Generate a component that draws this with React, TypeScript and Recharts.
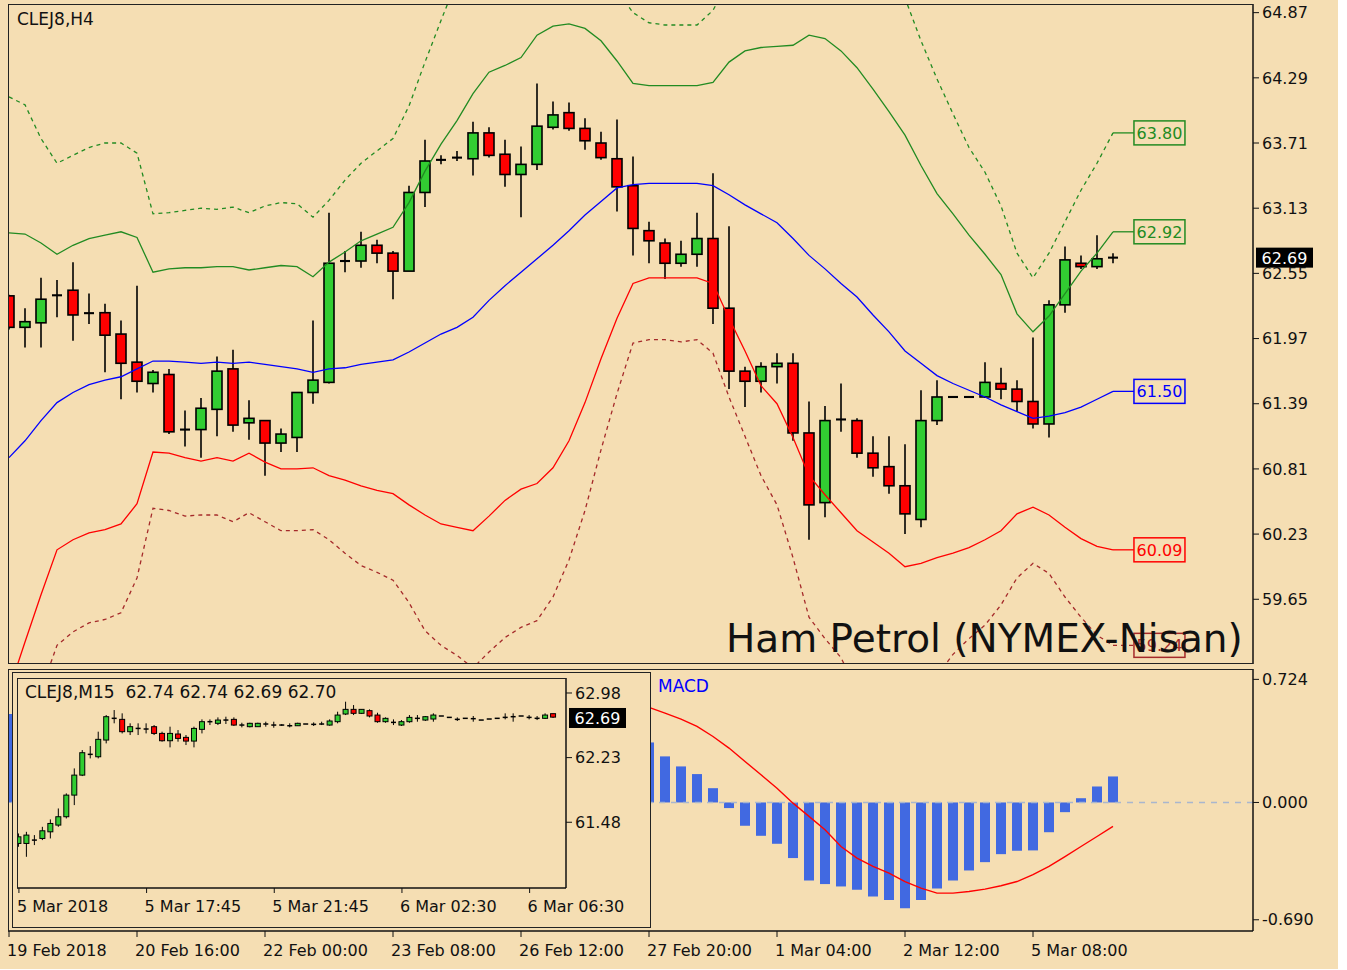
import React from "react";
import { ComposedChart, Bar, Line, XAxis, YAxis, ReferenceLine, ReferenceDot } from "recharts";

const BG = "#F5DEB3";
const FONT = "DejaVu Sans";
const INK = "#111";
const GREEN = "#228B22";
const BODY_UP = "#32CD32";
const BODY_DN = "#FF0000";

// ---- CLEJ8 H4, 19 Feb - 5 Mar 2018 ----
const h4Open = [
  62.35, 62.07, 62.11, 62.355, 62.4, 62.196, 62.2, 62.01, 61.76, 61.57,
  61.65, 61.16, 61.16, 61.34, 61.7, 61.22, 61.24, 61.04, 61.09, 61.49,
  61.58, 62.66, 62.66, 62.8, 62.73, 62.57, 63.27, 63.56, 63.58, 63.57,
  63.8, 63.61, 63.43, 63.52, 63.85, 63.98, 63.84, 63.71, 63.57, 63.33,
  62.93, 62.82, 62.64, 62.72, 62.86, 62.24, 61.68, 61.59, 61.72, 61.75,
  61.13, 60.51, 61.25, 61.24, 60.95, 60.83, 60.66, 60.36, 61.24, 61.45,
  61.45, 61.45, 61.57, 61.52, 61.41, 61.21, 62.27, 62.64, 62.61, 62.69,
];
const h4High = [
  62.36, 62.24, 62.51, 62.49, 62.65, 62.37, 62.28, 62.13, 62.44, 61.69,
  61.7, 61.33, 61.44, 61.81, 61.87, 61.42, 61.24, 61.17, 61.49, 62.13,
  63.09, 62.75, 62.92, 62.85, 62.75, 63.33, 63.74, 63.6, 63.64, 63.9,
  63.85, 63.74, 63.68, 64.24, 64.08, 64.07, 63.93, 63.81, 63.92, 63.59,
  63.01, 62.86, 62.84, 63.09, 63.44, 62.97, 61.72, 61.76, 61.84, 61.84,
  61.41, 61.37, 61.57, 61.26, 61.1, 61.1, 61.03, 61.51, 61.6, 61.45,
  61.45, 61.76, 61.71, 61.6, 61.98, 62.31, 62.79, 62.71, 62.89, 62.73,
];
const h4Low = [
  62.05, 61.89, 61.89, 62.16, 61.95, 62.1, 61.67, 61.43, 61.49, 61.49,
  61.12, 61.01, 60.91, 61.1, 61.14, 61.07, 60.75, 60.96, 60.96, 61.39,
  61.57, 62.56, 62.6, 62.64, 62.32, 62.57, 63.14, 63.52, 63.55, 63.42,
  63.58, 63.32, 63.05, 63.47, 63.83, 63.82, 63.65, 63.56, 63.1, 62.71,
  62.64, 62.5, 62.61, 62.61, 62.1, 61.52, 61.36, 61.49, 61.57, 61.06,
  60.18, 60.38, 61.14, 60.91, 60.74, 60.59, 60.23, 60.29, 61.2, 61.45,
  61.45, 61.44, 61.43, 61.32, 61.17, 61.09, 62.2, 62.59, 62.59, 62.64,
];
const h4Close = [
  62.07, 62.12, 62.32, 62.355, 62.18, 62.196, 62.0, 61.75, 61.59, 61.67,
  61.14, 61.16, 61.35, 61.68, 61.2, 61.26, 61.04, 61.12, 61.49, 61.6,
  62.64, 62.66, 62.8, 62.73, 62.57, 63.27, 63.55, 63.56, 63.58, 63.8,
  63.6, 63.43, 63.52, 63.86, 63.96, 63.84, 63.73, 63.58, 63.32, 62.95,
  62.84, 62.64, 62.72, 62.86, 62.24, 61.68, 61.59, 61.72, 61.75, 61.13,
  60.49, 61.24, 61.25, 60.95, 60.82, 60.66, 60.41, 61.24, 61.45, 61.45,
  61.45, 61.58, 61.52, 61.41, 61.21, 62.27, 62.67, 62.61, 62.68, 62.69,
];

// bands
const bandUpperOuter = [
  64.12, 64.05, 63.75, 63.53, 63.6, 63.67, 63.71, 63.71, 63.62, 63.08,
  63.09, 63.11, 63.13, 63.12, 63.14, 63.09, 63.15, 63.18, 63.17, 63.05,
  63.2, 63.38, 63.53, 63.64, 63.75, 64.04, 64.43, 64.8, 65.16, 65.51,
  65.78, 65.87, 65.96, 66.22, 66.31, 66.31, 66.13, 65.78, 65.07, 64.87,
  64.78, 64.76, 64.76, 64.76, 64.89, 65.16, 65.35, 65.46, 65.52, 65.61,
  65.84, 65.84, 65.73, 65.61, 65.47, 65.29, 65.0, 64.62, 64.28, 63.97,
  63.67, 63.45, 63.15, 62.73, 62.51, 62.73, 63.01, 63.29, 63.53, 63.8,
];
const bandUpper = [
  62.91, 62.9, 62.82, 62.72, 62.8, 62.86, 62.89, 62.92, 62.87, 62.56,
  62.59, 62.6, 62.6, 62.61, 62.61, 62.58, 62.6, 62.62, 62.61, 62.52,
  62.65, 62.74, 62.84, 62.9, 62.96, 63.18, 63.46, 63.7, 63.91, 64.15,
  64.34, 64.4, 64.47, 64.67, 64.75, 64.77, 64.73, 64.62, 64.44, 64.24,
  64.22, 64.22, 64.22, 64.22, 64.25, 64.43, 64.53, 64.56, 64.57, 64.58,
  64.67, 64.64, 64.53, 64.38, 64.19, 63.99, 63.78, 63.51, 63.26, 63.08,
  62.89, 62.72, 62.54, 62.19, 62.03, 62.17, 62.37, 62.57, 62.73, 62.92,
];
const bandMid = [
  60.91, 61.06, 61.24, 61.4, 61.49, 61.56, 61.6, 61.63, 61.7, 61.77,
  61.77, 61.76, 61.75, 61.76, 61.75, 61.76, 61.74, 61.72, 61.7, 61.67,
  61.7, 61.71, 61.74, 61.76, 61.78, 61.85, 61.93, 62.01, 62.07, 62.16,
  62.31, 62.44, 62.56, 62.68, 62.8, 62.93, 63.07, 63.19, 63.31, 63.34,
  63.35, 63.35, 63.35, 63.35, 63.33, 63.25, 63.16, 63.08, 63.0, 62.86,
  62.71, 62.59, 62.46, 62.34, 62.18, 62.03, 61.86, 61.75, 61.64, 61.57,
  61.51, 61.45, 61.38, 61.32, 61.26, 61.28, 61.31, 61.36, 61.43, 61.5,
];
const bandLower = [
  58.84, 59.27, 59.69, 60.09, 60.18, 60.24, 60.27, 60.32, 60.5, 60.96,
  60.95, 60.91, 60.88, 60.91, 60.88, 60.95, 60.87, 60.81, 60.81, 60.82,
  60.75, 60.71, 60.66, 60.62, 60.59, 60.49, 60.4, 60.32, 60.29, 60.26,
  60.39, 60.53, 60.63, 60.68, 60.82, 61.06, 61.4, 61.79, 62.15, 62.46,
  62.51, 62.51, 62.51, 62.51, 62.46, 62.15, 61.86, 61.55, 61.39, 61.09,
  60.75, 60.58, 60.42, 60.26, 60.16, 60.06, 59.94, 59.97, 60.02, 60.06,
  60.11, 60.18, 60.26, 60.41, 60.47, 60.4, 60.29, 60.19, 60.12, 60.09,
];
const bandLowerOuter = [
  57.86, 58.49, 58.84, 59.24, 59.36, 59.44, 59.47, 59.53, 59.84, 60.46,
  60.44, 60.39, 60.4, 60.4, 60.34, 60.42, 60.34, 60.26, 60.26, 60.27,
  60.18, 60.06, 59.95, 59.89, 59.82, 59.62, 59.37, 59.24, 59.15, 59.04,
  59.18, 59.31, 59.4, 59.46, 59.67, 60.0, 60.44, 60.98, 61.48, 61.93,
  61.96, 61.96, 61.94, 61.96, 61.84, 61.45, 61.1, 60.75, 60.49, 60.02,
  59.49, 59.3, 59.13, 58.84, 58.62, 58.49, 58.57, 58.75, 58.97, 59.16,
  59.3, 59.42, 59.6, 59.84, 59.97, 59.88, 59.67, 59.49, 59.33, 59.24,
];

// MACD (only the part not hidden by the inset is known)
const macdHist = [
  0.52, null, null, null, null, null, null, null, null, null,
  null, null, null, null, null, null, null, null, null, null,
  null, null, null, null, null, null, null, null, null, null,
  null, null, null, null, null, null, null, null, null, null,
  0.353, 0.271, 0.212, 0.167, 0.084, -0.033, -0.137, -0.196, -0.243, -0.327,
  -0.459, -0.48, -0.494, -0.514, -0.553, -0.573, -0.622, -0.573, -0.506, -0.459,
  -0.4, -0.351, -0.304, -0.284, -0.282, -0.175, -0.057, 0.025, 0.094, 0.153,
];
const macdSignal = [
  null, null, null, null, null, null, null, null, null, null,
  null, null, null, null, null, null, null, null, null, null,
  null, null, null, null, null, null, null, null, null, null,
  null, null, null, null, null, null, null, null, null, null,
  0.559, 0.525, 0.49, 0.447, 0.388, 0.32, 0.241, 0.163, 0.084, -0.004,
  -0.082, -0.161, -0.259, -0.327, -0.376, -0.416, -0.465, -0.504, -0.533, -0.533,
  -0.524, -0.51, -0.49, -0.465, -0.425, -0.376, -0.318, -0.259, -0.2, -0.141,
];

const priceTicks = [64.87, 64.29, 63.71, 63.13, 62.55, 61.97, 61.39, 60.81, 60.23, 59.65];
const macdTicks = [0.724, 0, -0.69];
const h4TickIdx = [0, 8, 16, 24, 32, 40, 48, 56, 64];
const h4TickLabels = [
  "19 Feb 2018", "20 Feb 16:00", "22 Feb 00:00", "23 Feb 08:00", "26 Feb 12:00",
  "27 Feb 20:00", "1 Mar 04:00", "2 Mar 12:00", "5 Mar 08:00",
];

// ---- CLEJ8 M15 inset ----
const m15Open = [
  61.234, 61.234, 61.273, 61.292, 61.369, 61.447, 61.544, 61.795, 62.027, 62.268,
  62.24, 62.434, 62.686, 62.674, 62.531, 62.569, 62.562, 62.589, 62.511, 62.426,
  62.504, 62.465, 62.422, 62.558, 62.647, 62.628, 62.666, 62.674, 62.608, 62.589,
  62.589, 62.62, 62.608, 62.608, 62.6, 62.6, 62.62, 62.616, 62.62, 62.608,
  62.647, 62.736, 62.79, 62.744, 62.775, 62.724, 62.647, 62.639, 62.608, 62.647,
  62.686, 62.666, 62.678, 62.713, 62.697, 62.674, 62.686, 62.682, 62.666, 62.678,
  62.686, 62.697, 62.705, 62.713, 62.697, 62.686, 62.686, 62.74,
];
const m15High = [
  61.35, 61.369, 61.331, 61.427, 61.513, 61.64, 61.815, 62.105, 62.318, 62.364,
  62.531, 62.724, 62.782, 62.744, 62.628, 62.628, 62.628, 62.608, 62.531, 62.589,
  62.55, 62.492, 62.589, 62.674, 62.674, 62.697, 62.705, 62.697, 62.635, 62.635,
  62.635, 62.647, 62.647, 62.62, 62.628, 62.635, 62.62, 62.639, 62.647, 62.674,
  62.763, 62.879, 62.84, 62.79, 62.79, 62.751, 62.697, 62.674, 62.666, 62.724,
  62.724, 62.713, 62.744, 62.713, 62.697, 62.697, 62.686, 62.713, 62.666, 62.678,
  62.686, 62.744, 62.744, 62.713, 62.724, 62.713, 62.744, 62.74,
];
const m15Low = [
  61.195, 61.079, 61.215, 61.273, 61.292, 61.427, 61.524, 61.679, 62.016, 62.221,
  62.221, 62.395, 62.628, 62.511, 62.492, 62.492, 62.511, 62.492, 62.415, 62.349,
  62.415, 62.376, 62.349, 62.511, 62.608, 62.608, 62.62, 62.597, 62.581, 62.581,
  62.589, 62.589, 62.577, 62.597, 62.581, 62.597, 62.62, 62.597, 62.608, 62.6,
  62.628, 62.724, 62.724, 62.736, 62.697, 62.635, 62.635, 62.608, 62.597, 62.635,
  62.647, 62.655, 62.647, 62.713, 62.697, 62.655, 62.686, 62.647, 62.666, 62.678,
  62.686, 62.674, 62.647, 62.713, 62.674, 62.666, 62.678, 62.69,
];
const m15Close = [
  61.311, 61.331, 61.273, 61.381, 61.466, 61.544, 61.795, 62.027, 62.287, 62.268,
  62.442, 62.705, 62.686, 62.531, 62.589, 62.569, 62.562, 62.511, 62.426, 62.511,
  62.453, 62.422, 62.569, 62.647, 62.647, 62.666, 62.666, 62.608, 62.608, 62.628,
  62.628, 62.62, 62.608, 62.608, 62.6, 62.628, 62.62, 62.616, 62.62, 62.655,
  62.724, 62.79, 62.744, 62.79, 62.713, 62.647, 62.686, 62.639, 62.647, 62.697,
  62.686, 62.705, 62.724, 62.713, 62.697, 62.674, 62.686, 62.682, 62.666, 62.678,
  62.686, 62.697, 62.705, 62.713, 62.697, 62.686, 62.724, 62.7,
];
const m15PriceTicks = [62.98, 62.23, 61.48];
const m15TickIdx = [0, 16, 32, 48, 64];
const m15TickLabels = ["5 Mar 2018", "5 Mar 17:45", "5 Mar 21:45", "6 Mar 02:30", "6 Mar 06:30"];

const tags = [
  { value: 63.8, text: "63.80", color: GREEN, dash: undefined },
  { value: 62.92, text: "62.92", color: GREEN, dash: undefined },
  { value: 61.5, text: "61.50", color: "#0000FF", dash: undefined },
  { value: 60.09, text: "60.09", color: "#FF0000", dash: undefined },
  { value: 59.24, text: "59.24", color: "#A52A2A", dash: "4 4" },
];

const h4Data = h4Open.map((o, i) => ({
  i, o, h: h4High[i], l: h4Low[i], c: h4Close[i],
  ud: bandUpperOuter[i], u: bandUpper[i], m: bandMid[i], lo: bandLower[i], ld: bandLowerOuter[i],
}));
const macdData = macdHist.map((v, i) => ({ i, hist: v, sig: macdSignal[i] }));
const m15Data = m15Open.map((o, i) => ({ i, o, h: m15High[i], l: m15Low[i], c: m15Close[i] }));

function makeCandle(sw: number) {
  return (props: any) => {
    const { x, y, width, height, payload } = props;
    if (x == null || y == null || !payload) return <g />;
    const { o, h, l, c } = payload;
    const k = h > l ? height / (h - l) : 0;
    const py = (v: number) => y + (h - v) * k;
    const mid = x + width / 2;
    const top = py(Math.max(o, c));
    const bot = py(Math.min(o, c));
    return (
      <g>
        <line x1={mid} x2={mid} y1={y} y2={y + height} stroke="#000" strokeWidth={sw} />
        {c !== o ? (
          <rect x={x} y={top} width={width} height={Math.max(bot - top, 1)}
            fill={c > o ? BODY_UP : BODY_DN} stroke="#000" strokeWidth={sw} />
        ) : (
          <line x1={x} x2={x + width} y1={top} y2={top} stroke="#000" strokeWidth={sw + 0.5} />
        )}
      </g>
    );
  };
}

const bigCandle = makeCandle(1.6);
const smallCandle = makeCandle(1);

const dateTick = (idx: number[], labels: string[]) => (props: any) => {
  const { x, y, payload } = props;
  const n = idx.indexOf(payload.value);
  return (
    <text x={x - 2} y={y} dy={17} fontSize={16} fontFamily={FONT} fill={INK} textAnchor="start">
      {n >= 0 ? labels[n] : ""}
    </text>
  );
};

const axisTick = { fontSize: 16, fontFamily: FONT, fill: INK };

const blackTag = (text: string) => (p: any) => (
  <g>
    <rect x={p.cx + 3} y={p.cy - 10} width={57} height={20} fill="#000" />
    <text x={p.cx + 31.5} y={p.cy + 6} textAnchor="middle" fontSize={16} fontFamily={FONT} fill="#fff">{text}</text>
  </g>
);

export default function App() {
  return (
    <div style={{ position: "relative", width: 1347, height: 970, background: "#fff", overflow: "hidden" }}>
      <style>{"body{margin:0}"}</style>
      <div style={{ position: "absolute", left: 0, top: 0, width: 1338, height: 969, background: BG }} />

      {/* main H4 window */}
      <div style={{ position: "absolute", left: 0, top: 0 }}>
        <ComposedChart width={1338} height={668} data={h4Data} margin={{ top: 4, right: 0, bottom: 4, left: 8 }}>
          <XAxis type="number" dataKey="i" domain={[-0.0625, 77.75]} hide allowDataOverflow />
          <YAxis orientation="right" width={85} domain={[59.074, 64.947]} allowDataOverflow ticks={priceTicks}
            interval={0} tickFormatter={(v: number) => v.toFixed(2)} tick={axisTick} tickSize={6} tickMargin={3}
            tickLine={{ stroke: INK }} axisLine={{ stroke: INK, strokeWidth: 1.5 }} />
          <Bar dataKey={(d: any) => [d.l, d.h]} barSize={10} shape={bigCandle} isAnimationActive={false} />
          <Line dataKey="ud" stroke={GREEN} strokeWidth={1.3} strokeDasharray="4 4" dot={false} activeDot={false} isAnimationActive={false} />
          <Line dataKey="u" stroke={GREEN} strokeWidth={1.3} dot={false} activeDot={false} isAnimationActive={false} />
          <Line dataKey="m" stroke="#0000FF" strokeWidth={1.3} dot={false} activeDot={false} isAnimationActive={false} />
          <Line dataKey="lo" stroke="#FF0000" strokeWidth={1.3} dot={false} activeDot={false} isAnimationActive={false} />
          <Line dataKey="ld" stroke="#A52A2A" strokeWidth={1.3} strokeDasharray="4 4" dot={false} activeDot={false} isAnimationActive={false} />
          {tags.map((t) => (
            <ReferenceLine key={"s" + t.text} segment={[{ x: 69, y: t.value }, { x: 70.31, y: t.value }]}
              stroke={t.color} strokeWidth={1.3} strokeDasharray={t.dash} />
          ))}
          {tags.map((t) => (
            <ReferenceDot key={"d" + t.text} x={70.31} y={t.value} r={0} ifOverflow="visible"
              shape={(p: any) => (
                <g>
                  <rect x={p.cx} y={p.cy - 12} width={51} height={24} fill={BG} stroke={t.color} strokeWidth={1.5} />
                  <text x={p.cx + 25.5} y={p.cy + 6} textAnchor="middle" fontSize={16} fontFamily={FONT} fill={t.color}>{t.text}</text>
                </g>
              )} />
          ))}
          <ReferenceDot x={77.75} y={62.69} r={0} ifOverflow="visible" shape={blackTag("62.69")} />
        </ComposedChart>
      </div>
      <div style={{ position: "absolute", left: 8, top: 4, width: 1245, height: 660, boxSizing: "border-box",
        borderTop: "1.5px solid #222", borderLeft: "1.5px solid #222", borderBottom: "1.5px solid #222", pointerEvents: "none" }} />

      {/* MACD window */}
      <div style={{ position: "absolute", left: 0, top: 668 }}>
        <ComposedChart width={1338} height={302} data={macdData} margin={{ top: 1, right: 0, bottom: 0, left: 8 }}>
          <XAxis type="number" dataKey="i" domain={[-0.0625, 77.75]} allowDataOverflow ticks={h4TickIdx} interval={0}
            height={39} tickSize={6} tickLine={{ stroke: INK }} axisLine={{ stroke: INK, strokeWidth: 1.5 }}
            tick={dateTick(h4TickIdx, h4TickLabels)} />
          <YAxis orientation="right" width={85} domain={[-0.756, 0.785]} allowDataOverflow ticks={macdTicks} interval={0}
            tickFormatter={(v: number) => v.toFixed(3)} tick={axisTick} tickSize={6} tickMargin={3}
            tickLine={{ stroke: INK }} axisLine={{ stroke: INK, strokeWidth: 1.5 }} />
          <ReferenceLine y={0} stroke="#A9B6CE" strokeWidth={1.5} strokeDasharray="6 6" />
          <Bar dataKey="hist" barSize={10} fill="#4169E1" isAnimationActive={false} />
          <Line dataKey="sig" stroke="#FF0000" strokeWidth={1.4} dot={false} activeDot={false} isAnimationActive={false} />
        </ComposedChart>
      </div>
      <div style={{ position: "absolute", left: 8, top: 669, width: 1245, height: 262, boxSizing: "border-box",
        borderTop: "1.5px solid #222", borderLeft: "1.5px solid #222", pointerEvents: "none" }} />

      {/* M15 inset */}
      <div style={{ position: "absolute", left: 12, top: 672, width: 639, height: 256, boxSizing: "border-box",
        background: BG, border: "1.5px solid #222" }} />
      <div style={{ position: "absolute", left: 12, top: 673 }}>
        <ComposedChart width={638} height={255} data={m15Data} margin={{ top: 5, right: 0, bottom: 0, left: 5 }}>
          <XAxis type="number" dataKey="i" domain={[-0.24, 68.56]} allowDataOverflow ticks={m15TickIdx} interval={0}
            height={40} tickSize={5} tickLine={{ stroke: INK }} axisLine={{ stroke: INK, strokeWidth: 1.5 }}
            tick={dateTick(m15TickIdx, m15TickLabels)} />
          <YAxis orientation="right" width={84} domain={[60.717, 63.154]} allowDataOverflow ticks={m15PriceTicks} interval={0}
            tickFormatter={(v: number) => v.toFixed(2)} tick={axisTick} tickSize={6} tickMargin={3}
            tickLine={{ stroke: INK }} axisLine={{ stroke: INK, strokeWidth: 1.5 }} />
          <Bar dataKey={(d: any) => [d.l, d.h]} barSize={5} shape={smallCandle} isAnimationActive={false} />
          <ReferenceDot x={68.56} y={62.69} r={0} ifOverflow="visible" shape={blackTag("62.69")} />
        </ComposedChart>
      </div>
      <div style={{ position: "absolute", left: 17, top: 678, width: 549, height: 210, boxSizing: "border-box",
        borderTop: "1.5px solid #222", borderLeft: "1.5px solid #222", pointerEvents: "none" }} />

      {/* captions */}
      <svg width={1347} height={970} style={{ position: "absolute", left: 0, top: 0, pointerEvents: "none" }}>
        <text x={17} y={25} fontSize={17} fontFamily={FONT} fill={INK}>CLEJ8,H4</text>
        <text x={25} y={698} fontSize={17} fontFamily={FONT} fill={INK}>{"CLEJ8,M15\u00a0\u00a062.74 62.74 62.69 62.70"}</text>
        <text x={658} y={692} fontSize={17} fontFamily={FONT} fill="#0000FF">MACD</text>
        <text x={726} y={652} fontSize={39} fontFamily={FONT} fill={INK}>Ham Petrol (NYMEX-Nisan)</text>
      </svg>
    </div>
  );
}
